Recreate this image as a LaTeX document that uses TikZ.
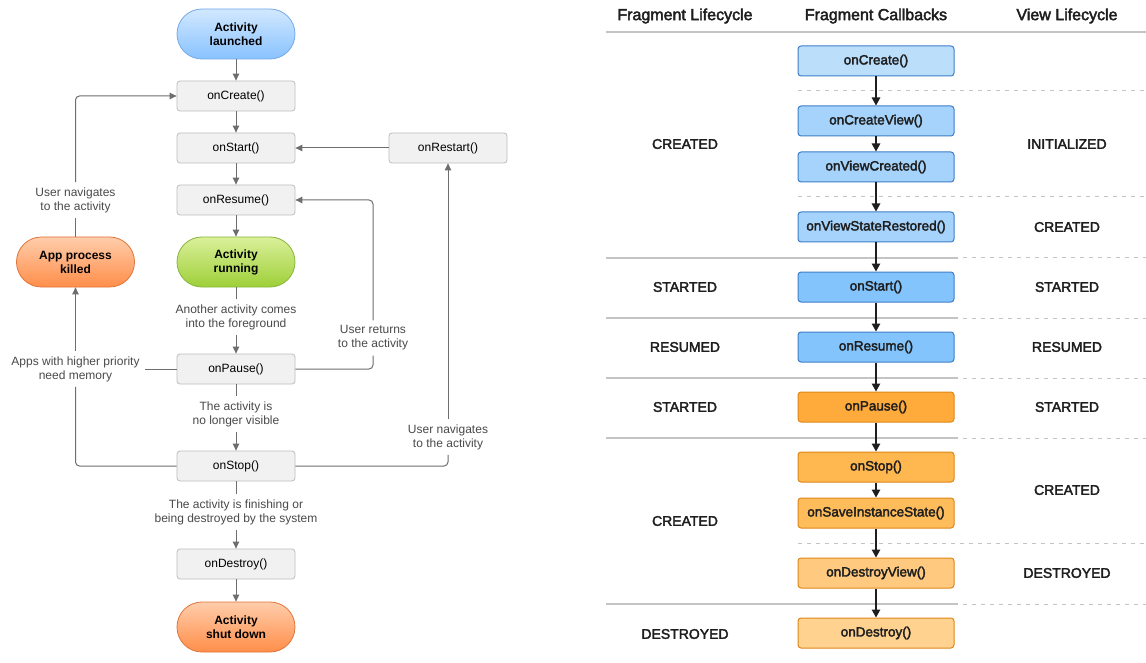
\documentclass[tikz,border=0pt]{standalone}
\usepackage{fontspec}
\setmainfont{Liberation Sans}
\newfontfamily\medfont{Liberation Sans}[FakeBold=2.5]
\usepackage{xcolor}
\usetikzlibrary{positioning,calc,arrows.meta}

\definecolor{boxfill}{HTML}{F1F1F1}
\definecolor{boxline}{HTML}{BDBDBD}
\definecolor{conngray}{HTML}{6E6E6E}
\definecolor{notegray}{HTML}{4A4A4A}
\definecolor{ink}{HTML}{1E1E1E}
\definecolor{sepgray}{HTML}{C4C4C4}
\definecolor{blueline}{HTML}{3F7FC8}
\definecolor{orangeline}{HTML}{DD8718}
\definecolor{bluetop}{HTML}{D2E8FF}
\definecolor{bluebot}{HTML}{88C2FF}
\definecolor{bluerim}{HTML}{74A9E6}
\definecolor{greentop}{HTML}{DAF09A}
\definecolor{greenbot}{HTML}{9ECF38}
\definecolor{greenrim}{HTML}{88B53C}
\definecolor{orangetop}{HTML}{FFCDAB}
\definecolor{orangebot}{HTML}{FF8E4A}
\definecolor{orangerim}{HTML}{E0753A}

\begin{document}
\begin{tikzpicture}[
  x=1pt, y=-1pt,
  box/.style={draw=boxline, line width=0.8pt, fill=boxfill, rounded corners=3pt, minimum width=118pt, minimum height=30pt, inner sep=0pt, font=\fontsize{12}{14}\selectfont},
  pill/.style={rounded corners=24.9pt, line width=0.8pt, minimum width=118pt, minimum height=50pt, inner sep=0pt, align=center, font=\fontsize{12}{14}\selectfont\bfseries},
  bluepill/.style={pill, draw=bluerim, top color=bluetop, bottom color=bluebot},
  greenpill/.style={pill, draw=greenrim, top color=greentop, bottom color=greenbot},
  orangepill/.style={pill, draw=orangerim, top color=orangetop, bottom color=orangebot},
  note/.style={align=center, text=notegray, inner sep=5pt, font=\fontsize{12}{14}\selectfont},
  conn/.style={draw=conngray, line width=1pt, rounded corners=4pt},
  flow/.style={conn, -{Triangle[length=7pt, width=6.5pt]}},
  head/.style={text=ink, font=\medfont\fontsize{16}{18}\selectfont},
  state/.style={text=ink, font=\medfont\fontsize{14}{16}\selectfont},
  cb/.style={draw, rounded corners=3pt, line width=1pt, minimum width=156pt, minimum height=30pt, inner sep=0pt, text=ink, font=\medfont\fontsize{13.5}{16}\selectfont},
  cbblue/.style={cb, draw=blueline},
  cborange/.style={cb, draw=orangeline},
  arr/.style={draw=ink, line width=1.3pt, -{Triangle[length=8pt, width=8.5pt]}},
  sep/.style={draw=sepgray, line width=1.5pt},
  dsep/.style={draw=sepgray, line width=1pt, dash pattern=on 4pt off 5pt}
]
\fill[white] (0,0) rectangle (1146,663);
\useasboundingbox (0,0) rectangle (1146,663);

% activity lifecycle
\node[bluepill] (launched) at (236,34) {Activity\\launched};
\node[box] (create) at (236,96) {onCreate()};
\node[box] (start) at (236,148) {onStart()};
\node[box] (restart) at (448,148) {onRestart()};
\node[box] (resume) at (236,200) {onResume()};
\node[greenpill] (running) at (236,262) {Activity\\running};
\node[orangepill] (killed) at (75.5,262) {App process\\killed};
\node[note] (foreground) at (236,317) {Another activity comes\\into the foreground};
\node[box] (pause) at (236,369) {onPause()};
\node[note] (hidden) at (236,414) {The activity is\\no longer visible};
\node[box] (stop) at (236,466) {onStop()};
\node[note] (finishing) at (236,512) {The activity is finishing or\\being destroyed by the system};
\node[box] (destroy) at (236,564) {onDestroy()};
\node[orangepill] (shutdown) at (236,627) {Activity\\shut down};

\node[note] (navback) at (75.5,200) {User navigates\\to the activity};
\node[note] (memory) at (75.5,369) {Apps with higher priority\\need memory};
\node[note] (returns) at (373,338) {User returns\\to the activity};
\node[note] (navagain) at (448,437) {User navigates\\to the activity};

\draw[flow] (launched) -- (create);
\draw[flow] (create) -- (start);
\draw[flow] (start) -- (resume);
\draw[flow] (resume) -- (running);
\draw[conn] (running) -- (foreground);
\draw[flow] (foreground) -- (pause);
\draw[conn] (pause) -- (hidden);
\draw[flow] (hidden) -- (stop);
\draw[conn] (stop) -- (finishing);
\draw[flow] (finishing) -- (destroy);
\draw[flow] (destroy) -- (shutdown);
\draw[flow] (restart) -- (start);
\draw[conn] (pause) -| (returns);
\draw[flow] (returns) |- (resume);
\draw[conn] (stop) -| (navagain);
\draw[flow] (navagain) -- (restart);
\draw[conn] (pause) -- (memory);
\draw[conn] (stop) -| (memory);
\draw[flow] (memory) -- (killed);
\draw[conn] (killed) -- (navback);
\draw[flow] (navback) |- (create);

% fragment lifecycle table
\node[head] (fraghead) at (685,16) {Fragment Lifecycle};
\node[head] (cbhead) at (876,16) {Fragment Callbacks};
\node[head] (viewhead) at (1067,16) {View Lifecycle};
\draw[sep] (606,32) -- (1146,32);
\foreach \y in {91,197,543}
  \draw[dsep] (798,\y) -- (1146,\y);
\foreach \y in {258,318,378,438,604} {
  \draw[sep] (606,\y) -- (958,\y);
  \draw[dsep] (963,\y) -- (1146,\y);
}

\node[cbblue, fill={rgb,255:red,187;green,222;blue,251}] (fcreate) at (876,61) {onCreate()};
\node[cbblue, fill={rgb,255:red,166;green,211;blue,251}] (fcreateview) at (876,121) {onCreateView()};
\node[cbblue, fill={rgb,255:red,166;green,211;blue,251}] (fviewcreated) at (876,167) {onViewCreated()};
\node[cbblue, fill={rgb,255:red,166;green,211;blue,251}] (frestored) at (876,227) {onViewStateRestored()};
\node[cbblue, fill={rgb,255:red,132;green,196;blue,252}] (fstart) at (876,287) {onStart()};
\node[cbblue, fill={rgb,255:red,132;green,196;blue,252}] (fresume) at (876,347) {onResume()};
\node[cborange, fill={rgb,255:red,255;green,171;blue,59}] (fpause) at (876,407) {onPause()};
\node[cborange, fill={rgb,255:red,255;green,183;blue,80}] (fstop) at (876,467) {onStop()};
\node[cborange, fill={rgb,255:red,255;green,188;blue,90}] (fsave) at (876,513) {onSaveInstanceState()};
\node[cborange, fill={rgb,255:red,255;green,202;blue,128}] (fdestroyview) at (876,573) {onDestroyView()};
\node[cborange, fill={rgb,255:red,255;green,210;blue,143}] (fdestroy) at (876,633) {onDestroy()};

\foreach \a/\b in {fcreate/fcreateview, fcreateview/fviewcreated, fviewcreated/frestored,
                   frestored/fstart, fstart/fresume, fresume/fpause, fpause/fstop,
                   fstop/fsave, fsave/fdestroyview, fdestroyview/fdestroy}
  \draw[arr] (\a) -- (\b);

\node[state] (fcreated) at (685,144) {CREATED};
\node[state] (fstarted) at (685,287) {STARTED};
\node[state] (fresumed) at (685,347) {RESUMED};
\node[state] (fstartedb) at (685,407) {STARTED};
\node[state] (fcreatedb) at (685,521) {CREATED};
\node[state] (fdestroyed) at (685,634) {DESTROYED};

\node[state] (vinit) at (1067,144) {INITIALIZED};
\node[state] (vcreated) at (1067,227) {CREATED};
\node[state] (vstarted) at (1067,287) {STARTED};
\node[state] (vresumed) at (1067,347) {RESUMED};
\node[state] (vstartedb) at (1067,407) {STARTED};
\node[state] (vcreatedb) at (1067,490) {CREATED};
\node[state] (vdestroyed) at (1067,573) {DESTROYED};
\end{tikzpicture}
\end{document}
